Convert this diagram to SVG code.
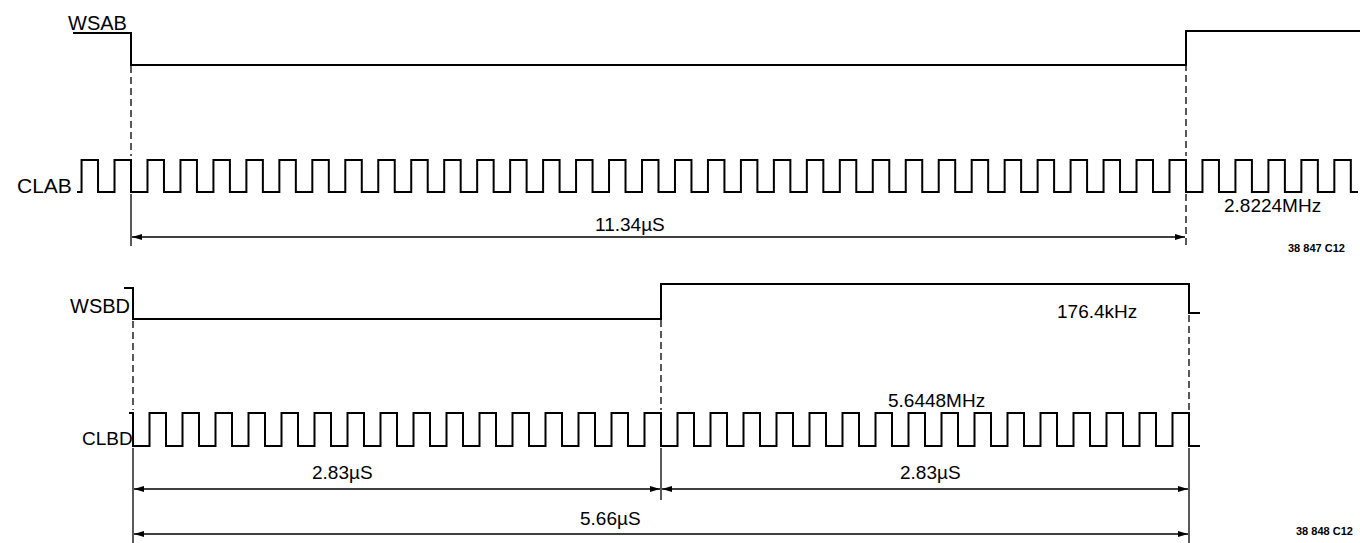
<svg xmlns="http://www.w3.org/2000/svg" width="1360" height="543" viewBox="0 0 1360 543">
<style>
.w{fill:none;stroke:#000;stroke-width:2;stroke-linejoin:miter}
.d{fill:none;stroke:#000;stroke-width:1.3;stroke-dasharray:7 4}
.e{fill:none;stroke:#000;stroke-width:1.3}
.t{font-family:"Liberation Sans",Arial,sans-serif;font-size:19px;fill:#000}
.s{font-family:"Liberation Sans",Arial,sans-serif;font-size:11px;font-weight:bold;fill:#000}
</style>
<defs>
<marker id="ah" viewBox="0 0 10 6" refX="10" refY="3" markerWidth="10" markerHeight="6" markerUnits="userSpaceOnUse" orient="auto-start-reverse">
<path d="M0,0 L10,3 L0,6 z" fill="#000"/>
</marker>
</defs>
<g id="connectors">
<path class="d" d="M131,66 V156"/>
<path class="d" d="M1186,64 V156"/>
<path class="e" d="M131,194 V246"/>
<path class="d" d="M1186,194 V246"/>
<path class="e" d="M132,237 H1185" marker-start="url(#ah)" marker-end="url(#ah)"/>
<path class="d" d="M133,321 V410"/>
<path class="d" d="M661,320 V410"/>
<path class="d" d="M1189,315 V410"/>
<path class="e" d="M133,448 V543"/>
<path class="e" d="M661,448 V500"/>
<path class="e" d="M1189,448 V543"/>
<path class="e" d="M134,489 H660" marker-start="url(#ah)" marker-end="url(#ah)"/>
<path class="e" d="M662,489 H1188" marker-start="url(#ah)" marker-end="url(#ah)"/>
<path class="e" d="M134,534 H1188" marker-start="url(#ah)" marker-end="url(#ah)"/>
</g>
<g id="WSAB">
<text class="t" x="68" y="30" style="font-size:20px">WSAB</text>
<path class="w" d="M73,33 H131 V65 H1186 V31 H1360"/>
</g>
<g id="CLAB">
<text class="t" x="17" y="193" style="font-size:21px">CLAB</text>
<path class="w" d="M77,192 H81.55
v-32h16.484v32h16.484 v-32h16.484v32h16.484 v-32h16.484v32h16.484 v-32h16.484v32h16.484 v-32h16.484v32h16.484
v-32h16.484v32h16.484 v-32h16.484v32h16.484 v-32h16.484v32h16.484 v-32h16.484v32h16.484 v-32h16.484v32h16.484
v-32h16.484v32h16.484 v-32h16.484v32h16.484 v-32h16.484v32h16.484 v-32h16.484v32h16.484 v-32h16.484v32h16.484
v-32h16.484v32h16.484 v-32h16.484v32h16.484 v-32h16.484v32h16.484 v-32h16.484v32h16.484 v-32h16.484v32h16.484
v-32h16.484v32h16.484 v-32h16.484v32h16.484 v-32h16.484v32h16.484 v-32h16.484v32h16.484 v-32h16.484v32h16.484
v-32h16.484v32h16.484 v-32h16.484v32h16.484 v-32h16.484v32h16.484 v-32h16.484v32h16.484 v-32h16.484v32h16.484
v-32h16.484v32h16.484 v-32h16.484v32h16.484 v-32h16.484v32h16.484 v-32h16.484v32h16.484 v-32h16.484v32h16.484
v-32h16.484v32h16.484 v-32h16.484v32h16.484 v-32h16.484v32h16.484
v-32h16.484v32H1358"/>
<text class="t" x="1224" y="212">2.8224MHz</text>
<text class="t" x="595" y="231">11.34µS</text>
</g>
<text class="s" x="1288" y="252">38 847 C12</text>
<g id="WSBD">
<text class="t" x="70" y="313" style="font-size:20px">WSBD</text>
<path class="w" d="M124,288 H133 V319 H661 V284 H1189 V313 H1200"/>
<text class="t" x="1057" y="318">176.4kHz</text>
</g>
<g id="CLBD">
<text class="t" x="82" y="445">CLBD</text>
<path class="w" d="M129,413 H133 V446 H149.5
v-33h16.5v33h16.5 v-33h16.5v33h16.5 v-33h16.5v33h16.5 v-33h16.5v33h16.5 v-33h16.5v33h16.5
v-33h16.5v33h16.5 v-33h16.5v33h16.5 v-33h16.5v33h16.5 v-33h16.5v33h16.5 v-33h16.5v33h16.5
v-33h16.5v33h16.5 v-33h16.5v33h16.5 v-33h16.5v33h16.5 v-33h16.5v33h16.5 v-33h16.5v33h16.5
v-33h16.5v33h16.5 v-33h16.5v33h16.5 v-33h16.5v33h16.5 v-33h16.5v33h16.5 v-33h16.5v33h16.5
v-33h16.5v33h16.5 v-33h16.5v33h16.5 v-33h16.5v33h16.5 v-33h16.5v33h16.5 v-33h16.5v33h16.5
v-33h16.5v33h16.5 v-33h16.5v33h16.5 v-33h16.5v33h16.5 v-33h16.5v33h16.5 v-33h16.5v33h16.5
v-33h16.5v33h16.5
v-33h16.5v33H1200"/>
<text class="t" x="888" y="407">5.6448MHz</text>
<text class="t" x="312" y="479">2.83µS</text>
<text class="t" x="900" y="479">2.83µS</text>
<text class="t" x="580" y="525">5.66µS</text>
</g>
<text class="s" x="1296" y="535">38 848 C12</text>
</svg>
